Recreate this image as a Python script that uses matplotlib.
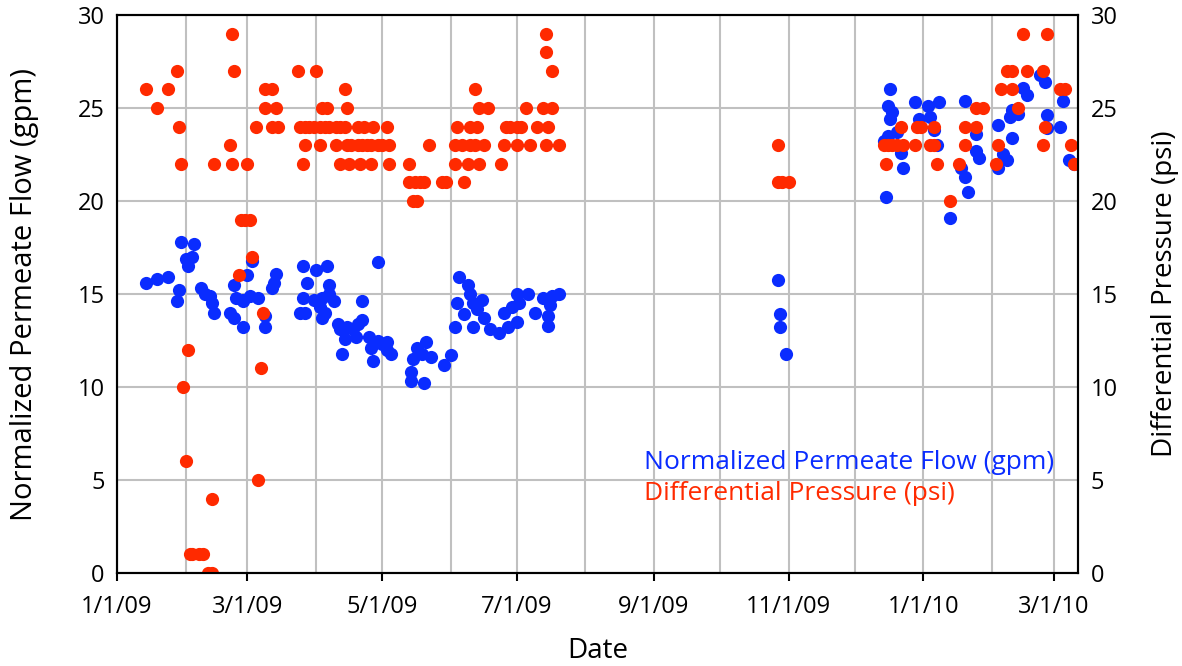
import matplotlib
matplotlib.use("Agg")
import matplotlib.pyplot as plt
import matplotlib.dates as mdates
import numpy as np
import pandas as pd

plt.rcParams['font.family'] = ['Open Sans', 'DejaVu Sans']

start = pd.Timestamp('2009-01-01')

# normalized permeate flow (gpm) - day offsets from 1/1/09 and values
flow_days = [13, 18, 23, 27, 28, 29, 31, 32, 34, 35, 38, 40, 42, 43, 44, 51, 53, 53, 54, 57,
             57, 57, 59, 61, 60, 64, 67, 67, 70, 71, 72,
             83, 84, 84, 85, 86, 89, 90, 92, 93, 93, 94, 95, 96, 96, 98, 100, 101, 102, 103,
             104, 107, 108, 109, 111, 111, 114, 115, 116, 118, 118, 120, 122, 122, 124,
             133, 133, 134, 136, 138, 139, 140, 142, 148, 151, 153, 154, 155, 157, 159, 160,
             161, 161, 163, 165, 166, 169, 173, 175, 177, 179, 181, 181, 182, 186, 189, 193,
             195, 195, 196, 197, 200,
             299, 300, 300, 303,
             347, 348, 349, 349, 350, 350, 351, 353, 355, 356, 361, 363, 367, 368, 370, 371,
             372, 377, 382, 384, 384, 385, 389, 389, 390, 399, 399, 401, 403, 404, 405, 405,
             408, 410, 412, 418, 420, 421, 421, 427, 428, 431, 433]
flow_vals = [15.6, 15.8, 15.9, 14.6, 15.2, 17.8, 16.9, 16.5, 17.0, 17.7, 15.3, 15.0, 14.9, 14.5, 14.0, 14.0, 13.7, 15.5, 14.8, 14.6,
             14.7, 13.2, 16.0, 16.8, 14.9, 14.8, 13.8, 13.2, 15.3, 15.6, 16.1,
             14.0, 16.5, 14.8, 14.0, 15.6, 14.7, 16.3, 14.3, 14.8, 13.7, 14.0, 16.5, 15.5, 15.0, 14.6, 13.4, 13.1, 11.8, 12.6,
             13.2, 13.1, 12.7, 13.4, 14.6, 13.6, 12.7, 12.1, 11.4, 12.5, 16.7, 12.3, 12.0, 12.4, 11.8,
             10.8, 10.3, 11.5, 12.1, 11.8, 10.2, 12.4, 11.6, 11.2, 11.7, 13.2, 14.5, 15.9, 13.9, 15.5, 15.0,
             14.5, 13.2, 14.2, 14.7, 13.7, 13.1, 12.9, 14.0, 13.2, 14.3, 15.0, 13.5, 14.5, 15.0, 14.0, 14.8,
             13.8, 13.3, 14.4, 14.9, 15.0,
             15.75, 13.9, 13.2, 11.8,
             23.2, 20.2, 23.5, 25.1, 24.4, 26.0, 24.8, 23.7, 22.6, 21.8, 25.3, 24.4, 25.1, 24.5, 23.8, 23.0,
             25.3, 19.1, 21.8, 25.4, 21.3, 20.5, 23.6, 22.7, 22.3, 24.1, 21.8, 22.5, 22.2, 24.5, 24.9, 23.4,
             24.7, 26.1, 25.7, 26.8, 26.4, 24.6, 23.9, 24.0, 25.4, 22.2, 22.0]

# differential pressure (psi)
dp_days = [13, 18, 23, 27, 28, 29, 30, 31, 32, 33, 34, 37, 39, 41, 43, 43, 44, 51, 52, 52,
           53, 55, 56, 58, 59, 60, 61, 64, 65, 66, 63, 67, 67, 70, 70, 72, 73,
           82, 90, 103, 93, 95, 104,
           83, 85, 87, 89, 92, 94, 96, 99, 101, 103, 109, 112, 116, 122,
           85, 92, 99, 104, 106, 109, 111, 113, 115, 118, 120, 123,
           84, 101, 105, 110, 115, 123,
           162, 164, 168, 185, 193, 197, 194, 194, 197,
           154, 160, 163, 176, 178, 181, 183, 190, 195,
           141, 153, 156, 160, 162, 166, 175, 181, 187, 194, 200,
           132, 153, 159, 164, 174,
           132, 135, 137, 139, 147, 149, 157,
           134, 136,
           299, 299, 301, 304,
           355, 362, 364, 370, 384, 389, 420,
           389, 392, 408,
           347, 349, 351, 353, 356, 361, 368, 370, 384, 399, 419, 432,
           348, 371, 381, 398, 433,
           377,
           403, 405, 412, 419,
           400, 405, 427, 429,
           410, 421]
dp_vals = [26, 25, 26, 27, 24, 22, 10, 6, 12, 1, 1, 1, 1, 0, 0, 4, 22, 23, 29, 22,
           27, 16, 19, 19, 22, 19, 17, 5, 11, 14, 24, 26, 25, 26, 24, 25, 24,
           27, 27, 26, 25, 25, 25,
           24, 24, 24, 24, 24, 24, 24, 24, 24, 24, 24, 24, 24, 24,
           23, 23, 23, 23, 23, 23, 23, 23, 23, 23, 23, 23,
           22, 22, 22, 22, 22, 22,
           26, 25, 25, 25, 25, 25, 28, 29, 27,
           24, 24, 24, 24, 24, 24, 24, 24, 24,
           23, 23, 23, 23, 23, 23, 23, 23, 23, 23, 23,
           22, 22, 22, 22, 22,
           21, 21, 21, 21, 21, 21, 21,
           20, 20,
           23, 21, 21, 21,
           24, 24, 24, 24, 24, 24, 24,
           25, 25, 25,
           23, 23, 23, 23, 23, 23, 23, 23, 23, 23, 23, 23,
           22, 22, 22, 22, 22,
           20,
           27, 27, 27, 27,
           26, 26, 26, 26,
           29, 29]

flow_dates = start + pd.to_timedelta(flow_days, unit='D')
dp_dates = start + pd.to_timedelta(dp_days, unit='D')

blue = '#0a2cff'
red = '#ff2a00'

fig = plt.figure(figsize=(11.82, 6.66), dpi=100)
ax = fig.add_axes([0.099, 0.1396, 0.813, 0.8379])
ax2 = ax.twinx()

ax.plot(flow_dates, flow_vals, 'o', color=blue, markersize=9.5, markeredgewidth=0,
        label='Normalized Permeate Flow (gpm)')
ax2.plot(dp_dates, dp_vals, 'o', color=red, markersize=9.5, markeredgewidth=0,
         label='Differential Pressure (psi)')

ax.set_xlim(pd.Timestamp('2009-01-01'), pd.Timestamp('2010-03-12'))
for a in (ax, ax2):
    a.set_ylim(0, 30)
    a.set_yticks(np.arange(0, 31, 5))
    a.tick_params(axis='y', labelsize=17, length=0, pad=9)

ax.xaxis.set_major_locator(mdates.MonthLocator(bymonth=[1, 3, 5, 7, 9, 11]))
ax.xaxis.set_minor_locator(mdates.MonthLocator())
ax.xaxis.set_major_formatter(plt.FuncFormatter(
    lambda v, p: (lambda d: f"{d.month}/{d.day}/{d.strftime('%y')}")(mdates.num2date(v))))
ax.tick_params(axis='x', which='major', labelsize=17, length=6, width=1.5, direction='out', pad=10)
ax.tick_params(axis='x', which='minor', length=0)

ax.grid(True, which='both', axis='x', color='#c0c0c0', linewidth=1.5)
ax.grid(True, which='major', axis='y', color='#c0c0c0', linewidth=1.5)
ax.set_axisbelow(True)

for a in (ax, ax2):
    for s in a.spines.values():
        s.set_linewidth(1.5)
        s.set_color('black')

ax.set_xlabel('Date', fontsize=20, labelpad=13)
ax.set_ylabel('Normalized Permeate Flow (gpm)', fontsize=21, labelpad=28)
ax2.set_ylabel('Differential Pressure (psi)', fontsize=20, labelpad=24)

h1, l1 = ax.get_legend_handles_labels()
h2, l2 = ax2.get_legend_handles_labels()
leg = ax2.legend(h1 + h2, l1 + l2, loc='lower right', bbox_to_anchor=(1.0, 0.077),
                 frameon=False, fontsize=19, handlelength=0, handletextpad=0,
                 markerscale=0, labelcolor=[blue, red], alignment='left', labelspacing=0.25)

fig.savefig('out.png', dpi=100)
